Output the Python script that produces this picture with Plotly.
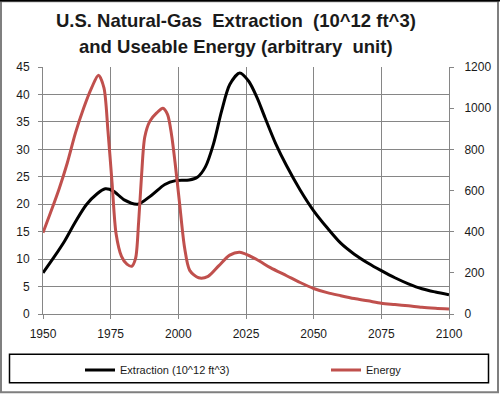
import plotly.graph_objects as go

# ---- data ----
ext_years = [1950, 1954, 1958, 1962, 1966, 1970, 1973, 1976, 1980, 1985, 1990, 1995,
             1999, 2004, 2007, 2010, 2013, 2016, 2019, 2022.7, 2026, 2029, 2032, 2036,
             2040, 2045, 2050, 2055, 2060, 2065, 2070, 2075, 2080, 2085, 2090, 2095, 2100]
ext_values = [7.5, 10.3, 13.3, 16.8, 19.9, 21.9, 22.8, 22.4, 20.8, 20.0, 21.6, 23.6,
              24.3, 24.4, 24.9, 26.8, 31.0, 37.0, 41.8, 43.9, 42.4, 39.5, 35.8, 31.0,
              27.0, 22.6, 18.8, 15.7, 12.9, 10.9, 9.3, 7.9, 6.6, 5.5, 4.6, 4.0, 3.5]

energy_years = [1950, 1953, 1956, 1959, 1962, 1965, 1968, 1970.5, 1972.5, 1974, 1975.5,
                1977, 1979, 1981, 1982.8, 1984.2, 1985.3, 1986.4, 1987.6, 1989.5, 1992,
                1994.3, 1996, 1997.5, 1998.8, 2000.5, 2002.3, 2004.2, 2007.5, 2011, 2015,
                2019, 2022.7, 2028.8, 2034, 2040, 2045, 2050, 2055, 2060, 2065, 2070,
                2075, 2080, 2085, 2090, 2095, 2100]
energy_values = [395, 500, 610, 735, 880, 1000, 1100, 1160, 1100, 890, 640,
                 390, 280, 242, 232, 270, 440, 670, 860, 937, 977,
                 1000, 970, 870, 735, 533, 323, 212, 176, 183, 235,
                 286, 300, 266, 225, 186, 153, 124, 104, 89, 75, 64,
                 52, 46, 40, 33, 28, 24]

title_line1 = "U.S. Natural-Gas  Extraction  (10^12 ft^3)"
title_line2 = "and Useable Energy (arbitrary  unit)"
x_ticks = [1950, 1975, 2000, 2025, 2050, 2075, 2100]
y_ticks = [0, 5, 10, 15, 20, 25, 30, 35, 40, 45]
y2_ticks = [0, 200, 400, 600, 800, 1000, 1200]

FONT = "Liberation Sans, Arial, sans-serif"
GRID = "#868686"

fig = go.Figure()
fig.add_trace(go.Scatter(x=ext_years, y=ext_values, mode="lines",
                         name="Extraction (10^12 ft^3)", legend="legend",
                         line=dict(color="#000000", width=3, shape="spline", smoothing=0.8)))
fig.add_trace(go.Scatter(x=energy_years, y=energy_values, mode="lines",
                         name="Energy", yaxis="y2", legend="legend2",
                         line=dict(color="#c0504d", width=3, shape="spline", smoothing=0.8)))

L, R, T, B = 43, 51, 67, 80
pw, ph = 500 - L - R, 395 - T - B

def px(x):
    return (x - L) / pw

def py(y):
    return (395 - B - y) / ph

legend_common = dict(orientation="h", yanchor="middle", xanchor="left",
                     font=dict(size=11, color="#1a1a1a"), bgcolor="rgba(0,0,0,0)",
                     itemwidth=30)

fig.update_layout(
    width=500, height=395,
    margin=dict(l=L, r=R, t=T, b=B, pad=0),
    paper_bgcolor="white", plot_bgcolor="white",
    font=dict(family=FONT, size=12, color="#1a1a1a"),
    showlegend=True,
    legend=dict(x=px(80), y=py(370), **legend_common),
    legend2=dict(x=px(326), y=py(370), **legend_common),
    xaxis=dict(range=[1950, 2100], tickvals=x_ticks, ticktext=[str(v) for v in x_ticks],
               showgrid=True, gridcolor=GRID, gridwidth=1, zeroline=False,
               showline=True, linecolor=GRID, linewidth=1, automargin=False,
               ticks="outside", ticklen=4, tickcolor=GRID, ticklabelstandoff=5),
    yaxis=dict(range=[0, 45], tickvals=y_ticks, showgrid=True, gridcolor=GRID, gridwidth=1,
               zeroline=False, showline=True, linecolor=GRID, linewidth=1, automargin=False,
               ticks="outside", ticklen=4, tickcolor=GRID, ticklabelstandoff=6),
    yaxis2=dict(range=[0, 1200], tickvals=y2_ticks, overlaying="y", side="right",
                showgrid=False, zeroline=False, showline=True, linecolor=GRID, linewidth=1,
                automargin=False,
                ticks="outside", ticklen=4, tickcolor=GRID, ticklabelstandoff=8),
    annotations=[
        dict(text="<b>" + title_line1 + "</b>", xref="paper", yref="paper",
             x=px(236), y=py(20), xanchor="center", yanchor="middle", showarrow=False,
             font=dict(family=FONT, size=18.5, color="#1a1a1a")),
        dict(text="<b>" + title_line2 + "</b>", xref="paper", yref="paper",
             x=px(236), y=py(46), xanchor="center", yanchor="middle", showarrow=False,
             font=dict(family=FONT, size=18.5, color="#1a1a1a")),
    ],
    shapes=[
        dict(type="rect", xref="paper", yref="paper", x0=px(9.5), x1=px(488.5),
             y0=py(355.5), y1=py(384), line=dict(color="#000000", width=1.5),
             fillcolor="rgba(0,0,0,0)", layer="below"),
        dict(type="rect", xref="paper", yref="paper", x0=px(1), x1=px(498),
             y0=py(1), y1=py(393.5), line=dict(color="#7f7f7f", width=2),
             fillcolor="rgba(0,0,0,0)", layer="below"),
        dict(type="line", xref="paper", yref="paper", x0=px(0), x1=px(500),
             y0=py(0.5), y1=py(0.5), line=dict(color="#000000", width=1.5),
             layer="below"),
    ],
)

fig.write_html("out.html", config={"displayModeBar": False},
               post_script="document.body.style.margin='0';document.body.style.overflow='hidden';")
